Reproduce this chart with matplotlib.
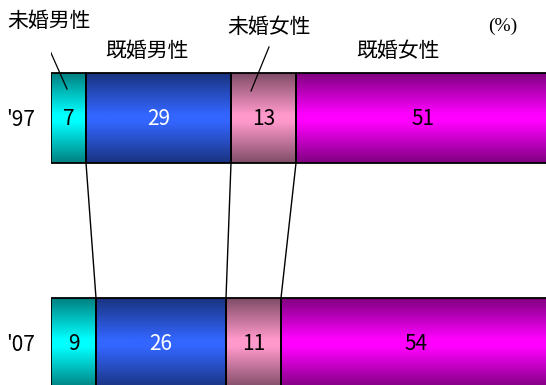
import numpy as np
import matplotlib
matplotlib.use("Agg")
import matplotlib.pyplot as plt
from matplotlib.colors import to_rgb

plt.rcParams['font.family'] = ['Noto Sans CJK JP', 'DejaVu Sans']

# Data
years = ["'97", "'07"]
categories = ["未婚男性", "既婚男性", "未婚女性", "既婚女性"]
shares_97 = [7, 29, 13, 51]
shares_07 = [9, 26, 11, 54]
series = [shares_97, shares_07]

# Styling
bright = ["#00ffff", "#3366ff", "#ff99cc", "#ff00ff"]
value_colors = ["black", "white", "black", "black"]

W, H, DPI = 546, 385, 100
fig = plt.figure(figsize=(W / DPI, H / DPI), dpi=DPI)

# Axes: x in percent (0% at px 51, 5 px per percent); y in bar-row units
x0_px, px_per_pct = 51, 5.0
row0_px, row_gap_px = 118, 225
ax = fig.add_axes([x0_px / W, 0, 100 * px_per_pct / W, 1])
ax.set_xlim(0, 100)
ytop = -row0_px / row_gap_px
ybot = ytop + H / row_gap_px
ax.set_ylim(ybot, ytop)
ax.axis('off')

def py(p):
    """pixel row -> data y"""
    return ytop + p / row_gap_px

def px(p):
    """pixel column -> data x"""
    return (p - x0_px) / px_per_pct

bar_h = 90 / row_gap_px

# vertical shading profile: dark at edges, bright in the middle
n = 200
t = np.abs(np.linspace(-1, 1, n))
fac = 1 - 0.5 * np.clip((t - 0.08) / 0.92, 0, 1)

num_kw = dict(ha='center', va='center', fontsize=15, fontstretch='condensed')

for row, vals in enumerate(series):
    left = 0
    for i, v in enumerate(vals):
        rgb = np.array(to_rgb(bright[i]))
        img = (fac[:, None, None] * rgb[None, None, :])
        ax.imshow(img, extent=(left, left + v, row + bar_h / 2, row - bar_h / 2),
                  aspect='auto', interpolation='bilinear', zorder=1)
        ax.add_patch(plt.Rectangle((left, row - bar_h / 2), v, bar_h,
                                   fill=False, edgecolor='black', lw=1.3, zorder=3))
        ax.text(left + v / 2, row + 0.005, str(v), color=value_colors[i],
                zorder=4, **num_kw)
        left += v
    ax.text(px(21), row + 0.01, years[row], color='black', clip_on=False, **num_kw)

ax.set_xlim(0, 100)
ax.set_ylim(ybot, ytop)

# connectors between segment boundaries
c97 = np.cumsum(shares_97)[:-1]
c07 = np.cumsum(shares_07)[:-1]
for a, b in zip(c97, c07):
    ax.plot([a, b], [0 + bar_h / 2, 1 - bar_h / 2], color='black', lw=1.0, zorder=2)

# category labels
lab_kw = dict(ha='center', va='center', fontsize=15)
ax.text(px(49), py(21), categories[0], clip_on=False, **lab_kw)
ax.text(px(147), py(51), categories[1], **lab_kw)
ax.text(px(269), py(27), categories[2], **lab_kw)
ax.text(px(398), py(51), categories[3], **lab_kw)
ax.text(px(503), py(26), "(%)", ha='center', va='center', fontsize=14,
        family=['Liberation Serif', 'DejaVu Serif'])

# leader lines to the narrow segments
ax.plot([px(47), px(67)], [py(44), py(89)], color='black', lw=0.9, zorder=5)
ax.plot([px(269), px(251)], [py(47), py(91)], color='black', lw=0.9, zorder=5)

fig.savefig("out.png", dpi=DPI)
